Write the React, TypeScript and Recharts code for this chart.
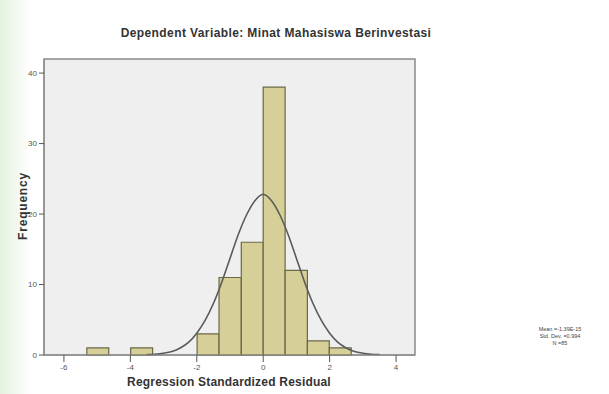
import React from "react";
import {
  ComposedChart, Line, XAxis, YAxis, ReferenceArea,
} from "recharts";

// histogram bins (residual ranges) and their frequencies
const binLow = [-5.31, -3.99, -1.99, -1.33, -0.66, 0, 0.66, 1.33, 1.99];
const binHigh = [-4.65, -3.33, -1.33, -0.66, 0, 0.66, 1.33, 1.99, 2.65];
const binCount = [1, 1, 3, 11, 16, 38, 12, 2, 1];

// normal curve
const curveX = [-3.5, -3.25, -3, -2.75, -2.5, -2.25, -2, -1.75, -1.5, -1.25, -1, -0.75, -0.5, -0.25, 0,
  0.25, 0.5, 0.75, 1, 1.25, 1.5, 1.75, 2, 2.25, 2.5, 2.75, 3, 3.25, 3.5];
const curveY = [0.05, 0.1, 0.25, 0.5, 1.0, 1.8, 3.1, 4.9, 7.3, 10.3, 13.7, 17.1, 19.9, 21.9, 22.8,
  21.9, 19.9, 17.1, 13.7, 10.3, 7.3, 4.9, 3.1, 1.8, 1.0, 0.5, 0.25, 0.1, 0.05];

const xTicks = [-6, -4, -2, 0, 2, 4];
const yTicks = [0, 10, 20, 30, 40];
const statLines = ["Mean =-1.39E-15", "Std. Dev. =0.994", "N =85"];

const FONT = "'Liberation Sans', Arial, sans-serif";

export default function App() {
  const curve = curveX.map((x, i) => ({ x, y: curveY[i] }));
  const tickStyle = { fontSize: 8, fill: "#555", fontFamily: FONT };

  return (
    <div style={{
      position: "fixed", left: 0, top: 0, width: 609, height: 394, overflow: "hidden",
      background: "linear-gradient(to right, #e4f1dd 0px, #ffffff 30px)", fontFamily: FONT,
    }}>
      {/* Title */}
      <div style={{
        position: "absolute", left: 0, width: 552, top: 26, textAlign: "center",
        fontSize: 12, fontWeight: "bold", letterSpacing: 0.4, color: "#333",
      }}>
        Dependent Variable: Minat Mahasiswa Berinvestasi
      </div>

      <ComposedChart width={609} height={394} data={curve}
        margin={{ top: 59, right: 194, bottom: 9, left: 14 }}>
        <XAxis dataKey="x" type="number" domain={[-6.6, 4.57]} ticks={xTicks} height={30}
          allowDataOverflow tick={tickStyle} tickSize={7} stroke="#888" tickLine={{ stroke: "#555" }} />
        <YAxis type="number" domain={[0, 42]} ticks={yTicks} width={30} allowDataOverflow
          tick={tickStyle} tickSize={5} stroke="#888" tickLine={{ stroke: "#555" }} />
        <ReferenceArea x1={-6.6} x2={4.57} y1={0} y2={42} fill="#efefef" fillOpacity={1}
          stroke="#8a8a8a" strokeWidth={1.5} ifOverflow="visible" />
        {binCount.map((c, i) => (
          <ReferenceArea key={i} x1={binLow[i]} x2={binHigh[i]} y1={0} y2={c}
            fill="#d6d098" fillOpacity={1} stroke="#6a6846" strokeWidth={1.2} ifOverflow="visible" />
        ))}
        <Line dataKey="y" type="monotone" stroke="#5a5a5a" strokeWidth={1.6} dot={false}
          isAnimationActive={false} />
      </ComposedChart>

      {/* Axis titles */}
      <div style={{
        position: "absolute", left: 23, top: 206, transform: "translate(-50%, -50%) rotate(-90deg)",
        fontSize: 12, fontWeight: "bold", letterSpacing: 0.8, color: "#333", whiteSpace: "nowrap",
      }}>
        Frequency
      </div>
      <div style={{
        position: "absolute", left: 109, width: 240, top: 375, textAlign: "center",
        fontSize: 12, fontWeight: "bold", letterSpacing: 0.2, color: "#333",
      }}>
        Regression Standardized Residual
      </div>

      {/* Stats */}
      <div style={{ position: "absolute", left: 525, width: 70, top: 326, textAlign: "center", fontSize: 5.5, lineHeight: "7px", color: "#444" }}>
        {statLines.map(s => <div key={s}>{s}</div>)}
      </div>
    </div>
  );
}
